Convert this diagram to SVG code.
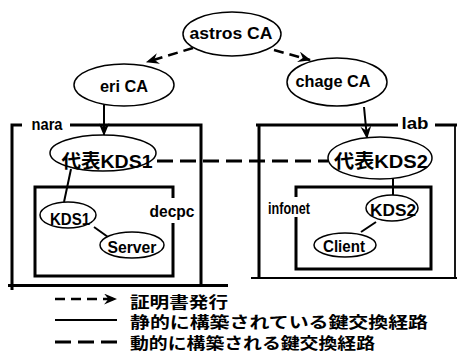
<svg xmlns="http://www.w3.org/2000/svg" width="457" height="363" viewBox="0 0 457 363">
<style>
.n{fill:#fff;stroke:#000;stroke-width:1.5}
.t{font-family:"Liberation Sans","Noto Sans CJK JP",sans-serif;font-weight:bold;fill:#000;text-anchor:middle}
.box{fill:none;stroke:#000;stroke-width:3}
.lg{font-family:"Noto Sans CJK JP",sans-serif;font-weight:bold;font-size:15.5px;fill:#000}
.issue{fill:none;stroke:#000;stroke-width:2.5;stroke-dasharray:10 6}
.stat{fill:none;stroke:#000;stroke-width:2}
.dyn{fill:none;stroke:#000;stroke-width:3;stroke-dasharray:16 7}
</style>
<defs>
<marker id="ah" viewBox="0 0 12 10" refX="11" refY="5" markerWidth="13" markerHeight="11" orient="auto" markerUnits="userSpaceOnUse"><path d="M0,0 L12,5 L0,10 L4,5 z" fill="#000"/></marker>
</defs>
<g id="nara">
<path class="box" d="M12,290 V125 H22 M70,125 H201 V284 M8,285.5 H228"/>
<text class="t" x="47" y="130" font-size="16" textLength="31" lengthAdjust="spacingAndGlyphs">nara</text>
</g>
<g id="lab">
<path class="box" d="M256,125 H398 M435,125 H457 M259,125 V278"/>
<path fill="none" stroke="#000" stroke-width="1.8" d="M251,278 H457 M455,125 V278"/>
<text class="t" x="415" y="129" font-size="16" textLength="27" lengthAdjust="spacingAndGlyphs">lab</text>
</g>
<g id="decpc">
<path class="box" d="M173,198 V187 H35 V276 H173 V223"/>
<text class="t" x="172" y="217" font-size="16" textLength="45" lengthAdjust="spacingAndGlyphs">decpc</text>
</g>
<g id="infonet">
<path class="box" d="M296,197 V187 H431 V269 H296 V217"/>
<text class="t" x="289" y="214" font-size="16" textLength="42" lengthAdjust="spacingAndGlyphs">infonet</text>
</g>
<g id="connectors">
<line class="issue" x1="193" y1="48" x2="147" y2="62" marker-end="url(#ah)"/>
<line class="issue" x1="274" y1="50" x2="310" y2="60" marker-end="url(#ah)"/>
<line class="stat" x1="104" y1="105" x2="104" y2="135" marker-end="url(#ah)"/>
<line class="stat" x1="364" y1="107" x2="367" y2="138" marker-end="url(#ah)"/>
<line class="dyn" x1="157" y1="161" x2="328" y2="161"/>
<line class="stat" x1="71" y1="169" x2="64" y2="202"/>
<line class="stat" x1="94" y1="227" x2="108" y2="237"/>
<line class="stat" x1="393" y1="177" x2="393" y2="195"/>
<line class="stat" x1="376" y1="222" x2="361" y2="232"/>
</g>
<g id="astros">
<ellipse class="n" cx="232" cy="34" rx="49" ry="22"/>
<text class="t" x="231" y="39" font-size="17" textLength="83" lengthAdjust="spacingAndGlyphs">astros CA</text>
</g>
<g id="eri">
<ellipse class="n" cx="124" cy="85" rx="50" ry="21"/>
<text class="t" x="124" y="92" font-size="17" textLength="48" lengthAdjust="spacingAndGlyphs">eri CA</text>
</g>
<g id="chage">
<ellipse class="n" cx="337" cy="82" rx="50" ry="24"/>
<text class="t" x="333" y="87" font-size="17" textLength="75" lengthAdjust="spacingAndGlyphs">chage CA</text>
</g>
<g id="kds1rep">
<ellipse class="n" cx="103" cy="153" rx="53" ry="18"/>
<text class="t" x="107" y="168" font-size="19" textLength="91" lengthAdjust="spacingAndGlyphs">代表KDS1</text>
</g>
<g id="kds2rep">
<ellipse class="n" cx="380" cy="158" rx="52" ry="21"/>
<text class="t" x="381" y="168" font-size="19" textLength="94" lengthAdjust="spacingAndGlyphs">代表KDS2</text>
</g>
<g id="kds1">
<ellipse class="n" cx="68" cy="215" rx="28" ry="13"/>
<text class="t" x="70" y="225" font-size="16" textLength="40" lengthAdjust="spacingAndGlyphs">KDS1</text>
</g>
<g id="server">
<ellipse class="n" cx="132" cy="245" rx="32" ry="13"/>
<text class="t" x="132" y="253" font-size="16" textLength="49" lengthAdjust="spacingAndGlyphs">Server</text>
</g>
<g id="kds2">
<ellipse class="n" cx="392" cy="208" rx="26" ry="13"/>
<text class="t" x="393" y="216" font-size="16" textLength="46" lengthAdjust="spacingAndGlyphs">KDS2</text>
</g>
<g id="client">
<ellipse class="n" cx="345" cy="245" rx="31" ry="12"/>
<text class="t" x="344" y="252" font-size="16" textLength="42" lengthAdjust="spacingAndGlyphs">Client</text>
</g>
<g id="legend">
<line class="issue" x1="55" y1="299" x2="116" y2="299" stroke-dasharray="13 5" marker-end="url(#ah)"/>
<line class="stat" x1="55" y1="320" x2="117" y2="320"/>
<line class="dyn" x1="55" y1="342" x2="117" y2="342" stroke-dasharray="18 5"/>
<text class="lg" x="130" y="308" textLength="98" lengthAdjust="spacingAndGlyphs">証明書発行</text>
<text class="lg" x="130" y="328" textLength="298" lengthAdjust="spacingAndGlyphs">静的に構築されている鍵交換経路</text>
<text class="lg" x="130" y="349" textLength="245" lengthAdjust="spacingAndGlyphs">動的に構築される鍵交換経路</text>
</g>
</svg>
